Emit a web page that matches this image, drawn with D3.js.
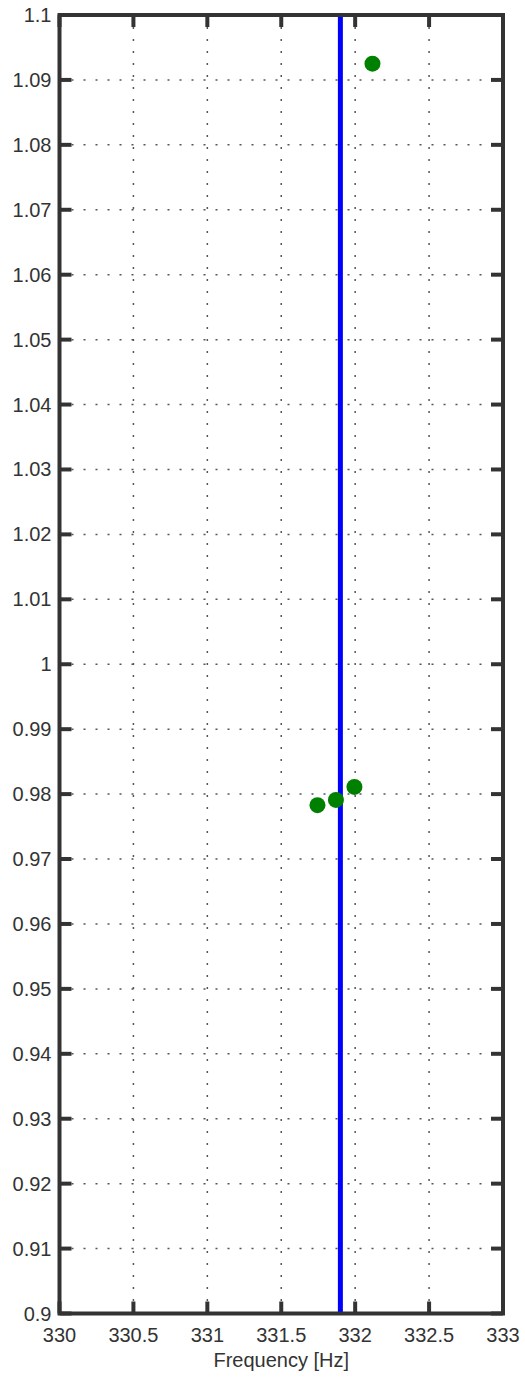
<!DOCTYPE html>
<html><head><meta charset="utf-8">
<script src="https://cdn.jsdelivr.net/npm/d3@7"></script>
<style>body{margin:0;background:#fff}svg{display:block}text{font-family:"Liberation Sans",Arial,sans-serif;fill:#333}</style>
</head><body>
<script>
const xTicks = [330, 330.5, 331, 331.5, 332, 332.5, 333];
const yTicks = [0.9,0.91,0.92,0.93,0.94,0.95,0.96,0.97,0.98,0.99,1,1.01,1.02,1.03,1.04,1.05,1.06,1.07,1.08,1.09,1.1];
const pointFreq = [331.745, 331.87, 331.995, 332.117];
const pointVal = [0.9783, 0.9791, 0.9811, 1.0925];
const lineFreq = [331.9];
const xLabel = "Frequency [Hz]";

const W = 525, H = 1377;
const svg = d3.select("body").append("svg").attr("width", W).attr("height", H);
const x = d3.scaleLinear().domain([330, 333]).range([59.5, 503]);
const y = d3.scaleLinear().domain([0.9, 1.1]).range([1313.5, 15]);
const L = x.range()[0], R = x.range()[1], T = y.range()[1], B = y.range()[0];
const fmt = d => String(+d.toFixed(3));

// grid
const g = svg.append("g");
g.selectAll(".gx").data(xTicks.slice(1, -1)).join("line")
  .attr("x1", d => x(d)).attr("x2", d => x(d)).attr("y1", T).attr("y2", B)
  .attr("stroke", "#555").attr("stroke-width", 1.5).attr("stroke-dasharray", "2,10");
g.selectAll(".gy").data(yTicks.slice(1, -1)).join("line")
  .attr("y1", d => y(d)).attr("y2", d => y(d)).attr("x1", L).attr("x2", R)
  .attr("stroke", "#555").attr("stroke-width", 1.5).attr("stroke-dasharray", "2,10");

// blue vertical line
svg.selectAll(".vl").data(lineFreq).join("line")
  .attr("x1", d => x(d)).attr("x2", d => x(d)).attr("y1", T).attr("y2", B)
  .attr("stroke", "#0000ff").attr("stroke-width", 5);

// points
svg.selectAll(".pt").data(pointFreq).join("circle")
  .attr("cx", d => x(d)).attr("cy", (d, i) => y(pointVal[i])).attr("r", 8)
  .attr("fill", "#008000");

// axes with inward ticks
const ax = svg.append("g");
const tk = 12;
ax.selectAll(".tb").data(xTicks).join("line")
  .attr("x1", d => x(d)).attr("x2", d => x(d)).attr("y1", B).attr("y2", B - tk)
  .attr("stroke", "#333").attr("stroke-width", 4);
ax.selectAll(".tt").data(xTicks).join("line")
  .attr("x1", d => x(d)).attr("x2", d => x(d)).attr("y1", T).attr("y2", T + tk)
  .attr("stroke", "#333").attr("stroke-width", 4);
ax.selectAll(".tl").data(yTicks).join("line")
  .attr("y1", d => y(d)).attr("y2", d => y(d)).attr("x1", L).attr("x2", L + tk)
  .attr("stroke", "#333").attr("stroke-width", 4);
ax.selectAll(".tr").data(yTicks).join("line")
  .attr("y1", d => y(d)).attr("y2", d => y(d)).attr("x1", R).attr("x2", R - tk)
  .attr("stroke", "#333").attr("stroke-width", 4);
ax.append("rect").attr("x", L).attr("y", T).attr("width", R - L).attr("height", B - T)
  .attr("fill", "none").attr("stroke", "#333").attr("stroke-width", 4);

// labels
svg.selectAll(".xl").data(xTicks).join("text")
  .attr("x", d => x(d)).attr("y", B + 28).attr("text-anchor", "middle")
  .attr("font-size", 20).text(fmt);
svg.selectAll(".yl").data(yTicks).join("text")
  .attr("x", L - 8).attr("y", d => y(d) + 7).attr("text-anchor", "end")
  .attr("font-size", 20).text(fmt);
svg.append("text").attr("x", (L + R) / 2).attr("y", B + 53).attr("text-anchor", "middle")
  .attr("font-size", 20).text(xLabel);
</script>
</body></html>
